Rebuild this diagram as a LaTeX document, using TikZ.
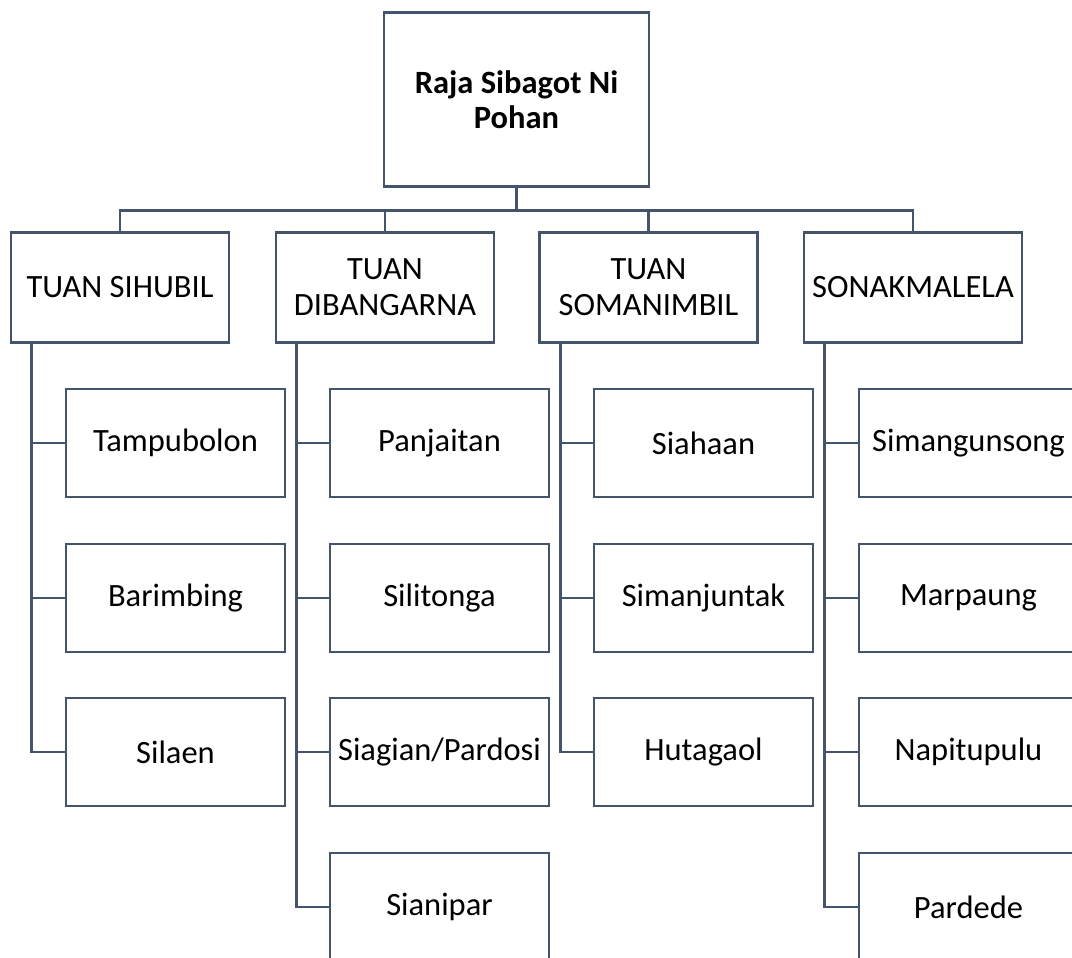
\documentclass[tikz,border=0pt]{standalone}
\usepackage{fontspec}
\setmainfont{Carlito}
\definecolor{lineblue}{HTML}{44546A}
\begin{document}
\begin{tikzpicture}[x=1pt,y=-1pt,
  box/.style={draw=lineblue,line width=2.8pt,fill=white,align=center,
    inner sep=0pt,font=\fontsize{32.5}{36}\selectfont,text=black},
  rootbox/.style={box,minimum width=265pt,minimum height=174pt,font=\fontsize{32.5}{35}\selectfont\bfseries},
  lvlbox/.style={box,minimum width=218pt,minimum height=109.6pt},
  kidbox/.style={box,minimum width=219pt,minimum height=108pt},
  conn/.style={draw=lineblue,line width=2.8pt}]
\path[use as bounding box,clip] (0,0) rectangle (1072,958);
% root
\node[rootbox] (root) at (516.5,99.7) {Raja Sibagot Ni\\Pohan};
% level 1
\node[lvlbox] (l1) at (120,287.5) {TUAN SIHUBIL};
\node[lvlbox] (l2) at (385,287.5) {TUAN\\DIBANGARNA};
\node[lvlbox] (l3) at (648.5,287.5) {TUAN\\SOMANIMBIL};
\node[lvlbox] (l4) at (913,287.5) {SONAKMALELA};
% children
\node[kidbox] (c11) at (175.5,443) {Tampubolon};
\node[kidbox] (c12) at (175.5,598) {Barimbing};
\node[kidbox] (c13) at (175.5,752) {Silaen};
\node[kidbox] (c21) at (439.5,443) {Panjaitan};
\node[kidbox] (c22) at (439.5,598) {Silitonga};
\node[kidbox] (c23) at (439.5,752) {Siagian/Pardosi};
\node[kidbox] (c24) at (439.5,907) {Sianipar};
\node[kidbox] (c31) at (703.5,443) {Siahaan};
\node[kidbox] (c32) at (703.5,598) {Simanjuntak};
\node[kidbox] (c33) at (703.5,752) {Hutagaol};
\node[kidbox] (c41) at (968.5,443) {Simangunsong};
\node[kidbox] (c42) at (968.5,598) {Marpaung};
\node[kidbox] (c43) at (968.5,752) {Napitupulu};
\node[kidbox] (c44) at (968.5,907) {Pardede};
% bus
\coordinate (bus) at (516.5,210.7);
\draw[conn] (root.south) -- (bus);
\draw[conn] (l1.north) |- (bus) -| (l4.north);
\draw[conn] (l2.north) -- (l2.north |- bus);
\draw[conn] (l3.north) -- (l3.north |- bus);
% trunks
\coordinate (t1) at ([xshift=22pt]l1.south west);
\coordinate (t2) at ([xshift=22pt]l2.south west);
\coordinate (t3) at ([xshift=22pt]l3.south west);
\coordinate (t4) at ([xshift=22pt]l4.south west);
\draw[conn] (t1) |- (c13.west);
\draw[conn] (c11.west) -- (c11.west -| t1);
\draw[conn] (c12.west) -- (c12.west -| t1);
\draw[conn] (t2) |- (c24.west);
\draw[conn] (c21.west) -- (c21.west -| t2);
\draw[conn] (c22.west) -- (c22.west -| t2);
\draw[conn] (c23.west) -- (c23.west -| t2);
\draw[conn] (t3) |- (c33.west);
\draw[conn] (c31.west) -- (c31.west -| t3);
\draw[conn] (c32.west) -- (c32.west -| t3);
\draw[conn] (t4) |- (c44.west);
\draw[conn] (c41.west) -- (c41.west -| t4);
\draw[conn] (c42.west) -- (c42.west -| t4);
\draw[conn] (c43.west) -- (c43.west -| t4);
\end{tikzpicture}
\end{document}
